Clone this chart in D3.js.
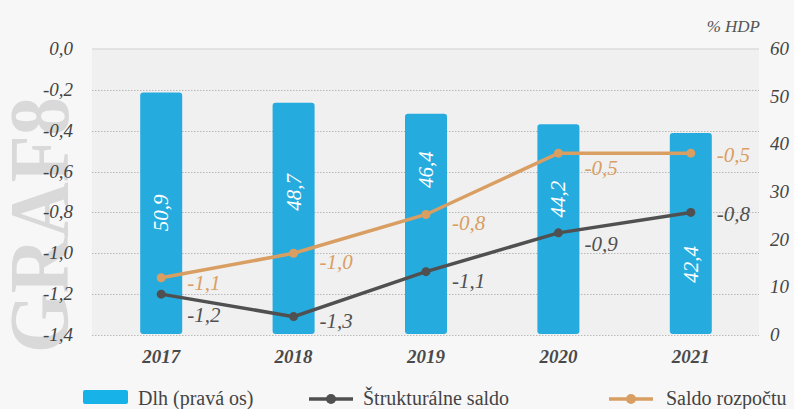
<!DOCTYPE html>
<html lang="sk">
<head>
<meta charset="UTF-8">
<title>Graf 8</title>
<script src="https://d3js.org/d3.v7.min.js"></script>
<style>
  body { margin: 0; background: #f7f7f7; }
  svg { display: block; }
  .serif { font-family: "Liberation Serif", "DejaVu Serif", "Times New Roman", serif; }
  .tick-lbl { font-style: italic; font-size: 19px; fill: #444; }
  .lgd { font-size: 20px; fill: #444; }
</style>
</head>
<body>
<div id="chart"></div>
<script>
// data
const years = ["2017", "2018", "2019", "2020", "2021"];
const debt = [50.9, 48.7, 46.4, 44.2, 42.4];          // Dlh (pravá os)
const structural = [-1.2, -1.31, -1.09, -0.9, -0.8];  // Štrukturálne saldo
const budget = [-1.12, -1.0, -0.81, -0.51, -0.51];    // Saldo rozpočtu
const leftTicks = [0, -0.2, -0.4, -0.6, -0.8, -1.0, -1.2, -1.4];
const rightTicks = [0, 10, 20, 30, 40, 50, 60];

// layout tweaks for the labels
const debtLabelAt = [25.6, 29.9, 34.7, 28.5, 14.8];   // in right-axis units
const budgetLabelDy = [12, 16, 16, 22, 9];
const structLabelDy = [28, 11, 16, 18, 9];

const W = 794, H = 409;
const plot = {left: 92, right: 759, top: 49, bottom: 335};
const fmt = v => d3.format(".1f")(v).replace("\u2212", "-").replace(".", ",");

const svg = d3.select("#chart").append("svg").attr("width", W).attr("height", H);

const x = d3.scalePoint().domain(years).range([95, 757]).padding(0.5);
const barW = 42;
const yL = d3.scaleLinear().domain([-1.4, 0]).range([plot.bottom, plot.top]);
const yR = d3.scaleLinear().domain([0, 60]).range([plot.bottom, plot.top]);

// watermark
svg.append("text")
  .attr("class", "serif")
  .attr("transform", "translate(68,353) rotate(-90)")
  .attr("textLength", 256).attr("lengthAdjust", "spacingAndGlyphs")
  .style("font-weight", "bold")
  .style("font-size", "84px").style("fill", "#d9d9d9")
  .text("GRAF8");

// plot background
svg.append("rect")
  .attr("x", plot.left).attr("y", plot.top)
  .attr("width", plot.right - plot.left).attr("height", plot.bottom - plot.top)
  .attr("fill", "#f0f0f0");
svg.append("line")
  .attr("x1", plot.left).attr("x2", plot.right)
  .attr("y1", plot.top).attr("y2", plot.top)
  .attr("stroke", "#dcdcdc").attr("stroke-width", 1.5);

// grid
svg.append("g").selectAll("line").data(leftTicks.slice(1)).join("line")
  .attr("x1", plot.left).attr("x2", plot.right)
  .attr("y1", d => Math.round(yL(d)) + 0.5).attr("y2", d => Math.round(yL(d)) + 0.5)
  .attr("stroke", "#b8b8b8").attr("stroke-dasharray", "1.5,1.5");

// axes labels
svg.append("g").selectAll("text").data(leftTicks).join("text")
  .attr("class", "serif tick-lbl")
  .attr("x", 73).attr("y", d => yL(d) + 6)
  .attr("text-anchor", "end")
  .text(fmt);
svg.append("g").selectAll("text").data(rightTicks).join("text")
  .attr("class", "serif tick-lbl")
  .attr("x", 770).attr("y", d => yR(d) + 6)
  .text(d => d);
svg.append("g").selectAll("text").data(years).join("text")
  .attr("class", "serif tick-lbl")
  .attr("x", d => x(d)).attr("y", 363)
  .attr("text-anchor", "middle")
  .style("font-weight", "bold").style("fill", "#4a4a4a")
  .text(d => d);
svg.append("text").attr("class", "serif tick-lbl")
  .attr("x", 760).attr("y", 32).attr("text-anchor", "end")
  .style("font-size", "17px").style("fill", "#555")
  .text("% HDP");

// bars
svg.append("g").selectAll("rect").data(debt).join("rect")
  .attr("x", (d, i) => x(years[i]) - barW / 2)
  .attr("width", barW)
  .attr("y", d => yR(d))
  .attr("height", d => yR(0) - yR(d) - 1)
  .attr("rx", 3)
  .attr("fill", "#25abde");
svg.append("g").selectAll("text").data(debt).join("text")
  .attr("class", "serif")
  .attr("transform", (d, i) => `translate(${x(years[i]) + 7},${yR(debtLabelAt[i])}) rotate(-90)`)
  .attr("text-anchor", "middle")
  .style("font-style", "italic")
  .style("font-size", "21px").style("fill", "#fff")
  .text(fmt);

// lines
function series(vals, color, dys) {
  const line = d3.line().x((d, i) => x(years[i])).y(d => yL(d));
  svg.append("path").datum(vals)
    .attr("d", line).attr("fill", "none")
    .attr("stroke", color).attr("stroke-width", 3.5);
  svg.append("g").selectAll("circle").data(vals).join("circle")
    .attr("cx", (d, i) => x(years[i])).attr("cy", d => yL(d))
    .attr("r", 4.5).attr("fill", color);
  svg.append("g").selectAll("text").data(vals).join("text")
    .attr("class", "serif tick-lbl")
    .attr("x", (d, i) => x(years[i]) + 26)
    .attr("y", (d, i) => yL(d) + dys[i])
    .style("fill", color).style("font-size", "21px")
    .text(fmt);
}
series(budget, "#d99e62", budgetLabelDy);
series(structural, "#505050", structLabelDy);

// legend
const lg = svg.append("g");
lg.append("rect").attr("x", 83).attr("y", 390).attr("width", 45).attr("height", 14)
  .attr("rx", 2).attr("fill", "#17b2e8");
lg.append("text").attr("class", "serif lgd").attr("x", 138).attr("y", 405).text("Dlh (pravá os)");
[["Štrukturálne saldo", "#505050", 309, 363], ["Saldo rozpočtu", "#d99e62", 609, 666]].forEach(([t, c, lx, tx]) => {
  lg.append("line").attr("x1", lx).attr("x2", lx + 44).attr("y1", 399).attr("y2", 399)
    .attr("stroke", c).attr("stroke-width", 3.5);
  lg.append("circle").attr("cx", lx + 22).attr("cy", 399).attr("r", 5).attr("fill", c);
  lg.append("text").attr("class", "serif lgd").attr("x", tx).attr("y", 405).text(t);
});
</script>
</body>
</html>
